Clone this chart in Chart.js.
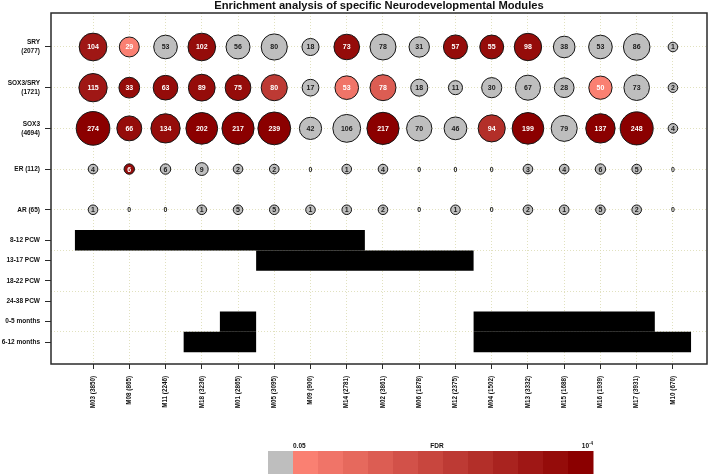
<!DOCTYPE html>
<html>
<head>
<meta charset="utf-8">
<script src="https://cdn.jsdelivr.net/npm/chart.js@4.4.1/dist/chart.umd.min.js"></script>
<style>
  html, body { margin: 0; padding: 0; background: #fff; }
</style>
</head>
<body>
<canvas id="chart" width="709" height="476"></canvas>
<script>
const FONT = "'Liberation Sans', Arial, Helvetica, sans-serif";

// modules (x axis) and their gene counts
const modules = ['M03', 'M08', 'M11', 'M18', 'M01', 'M05', 'M09', 'M14', 'M02',
                 'M06', 'M12', 'M04', 'M13', 'M15', 'M16', 'M17', 'M10'];
const moduleSizes = [3850, 865, 2246, 3236, 2865, 3095, 900, 2781, 3861,
                     1878, 2375, 1502, 3332, 1688, 1939, 3931, 670];

// target gene sets (top rows)
const motifs = ['SRY', 'SOX3/SRY', 'SOX3', 'ER', 'AR'];
const motifSizes = [2077, 1721, 4694, 112, 65];

// overlap counts per module
const countSRY     = [104, 29, 53, 102, 56, 80, 18, 73, 78, 31, 57, 55, 98, 38, 53, 86, 1];
const countSOX3SRY = [115, 33, 63, 89, 75, 80, 17, 53, 78, 18, 11, 30, 67, 28, 50, 73, 2];
const countSOX3    = [274, 66, 134, 202, 217, 239, 42, 106, 217, 70, 46, 94, 199, 79, 137, 248, 4];
const countER      = [4, 6, 6, 9, 2, 2, 0, 1, 4, 0, 0, 0, 3, 4, 6, 5, 0];
const countAR      = [1, 0, 0, 1, 5, 5, 1, 1, 2, 0, 1, 0, 2, 1, 5, 2, 0];

// FDR class: 0 = not significant, 1 (0.05) .. 12 (1e-4)
const fdrSRY     = [10, 1, 0, 11, 0, 0, 0, 11, 0, 0, 11, 11, 11, 0, 0, 0, 0];
const fdrSOX3SRY = [10, 11, 11, 11, 11, 7, 0, 2, 4, 0, 0, 0, 0, 0, 1, 0, 0];
const fdrSOX3    = [12, 11, 11, 12, 12, 12, 0, 0, 12, 0, 0, 8, 12, 0, 12, 12, 0];
const fdrER      = [0, 11, 0, 0, 0, 0, 0, 0, 0, 0, 0, 0, 0, 0, 0, 0, 0];
const fdrAR      = [0, 0, 0, 0, 0, 0, 0, 0, 0, 0, 0, 0, 0, 0, 0, 0, 0];

// developmental periods (bottom rows): 1 = module active
const periods = ['8-12 PCW', '13-17 PCW', '18-22 PCW', '24-38 PCW', '0-5 months', '6-12 months'];
const pcw8_12   = [1, 1, 1, 1, 1, 1, 1, 1, 0, 0, 0, 0, 0, 0, 0, 0, 0];
const pcw13_17  = [0, 0, 0, 0, 0, 1, 1, 1, 1, 1, 1, 0, 0, 0, 0, 0, 0];
const pcw18_22  = [0, 0, 0, 0, 0, 0, 0, 0, 0, 0, 0, 0, 0, 0, 0, 0, 0];
const pcw24_38  = [0, 0, 0, 0, 0, 0, 0, 0, 0, 0, 0, 0, 0, 0, 0, 0, 0];
const months0_5 = [0, 0, 0, 0, 1, 0, 0, 0, 0, 0, 0, 1, 1, 1, 1, 1, 0];
const months6_12 = [0, 0, 0, 1, 1, 0, 0, 0, 0, 0, 0, 1, 1, 1, 1, 1, 1];

const counts = [countSRY, countSOX3SRY, countSOX3, countER, countAR];
const fdrs = [fdrSRY, fdrSOX3SRY, fdrSOX3, fdrER, fdrAR];
const presence = [pcw8_12, pcw13_17, pcw18_22, pcw24_38, months0_5, months6_12];

// y layout: gene-set rows two units apart above the six period rows
const motifY = motifs.map((_, i) => 14.5 - 2 * i);
const periodY = periods.map((_, i) => 5 - i);
const gridOnlyY = [0.5, 2.5, 4.5];
const yTicks = [...periodY, ...gridOnlyY, ...motifY].sort((a, b) => a - b);

const GREY = '#bebebe';
const GRID = 'rgba(215,215,170,0.75)';
const salmon = [250, 128, 114], darkred = [139, 0, 0];
const reds = Array.from({ length: 12 }, (_, i) => {
  const t = i / 11;
  return 'rgb(' + salmon.map((c, k) => Math.round(c + (darkred[k] - c) * t)).join(',') + ')';
});

function bubbleRadius(n) {
  if (!n) return 0;
  return Math.max(4.8, 3.04 * Math.log(n) - 0.25);
}

function yLabel(v) {
  const m = motifY.indexOf(v);
  if (m >= 0) {
    const size = '(' + motifSizes[m] + ')';
    return m < 3 ? [motifs[m], size] : motifs[m] + ' ' + size;
  }
  const p = periodY.indexOf(v);
  return p >= 0 ? periods[p] : '';
}

// contiguous runs of active modules become floating bars
const barData = [];
presence.forEach((row, p) => {
  let start = null;
  row.forEach((v, c) => {
    if (v && start === null) start = c;
    const last = c === row.length - 1;
    if (start !== null && (!v || last)) {
      const end = v ? c : c - 1;
      barData.push({ y: periodY[p], x: [start + 0.5, end + 1.5] });
      start = null;
    }
  });
});

const bubbleSets = motifs.map((name, r) => ({
  type: 'bubble',
  label: name,
  order: 0,
  data: counts[r].map((n, c) => ({ x: c + 1, y: motifY[r], n: n, fdr: fdrs[r][c] })),
  backgroundColor: ctx => (ctx.raw && ctx.raw.fdr) ? reds[ctx.raw.fdr - 1] : GREY,
  borderColor: '#151515',
  borderWidth: ctx => (ctx.raw && ctx.raw.n) ? 1 : 0,
  radius: ctx => ctx.raw ? bubbleRadius(ctx.raw.n) : 0
}));

const decorations = {
  id: 'decorations',
  afterDatasetsDraw(chart) {
    const ctx = chart.ctx;
    ctx.save();
    ctx.font = 'bold 7px ' + FONT;
    ctx.textAlign = 'center';
    ctx.textBaseline = 'middle';
    chart.data.datasets.forEach((ds, i) => {
      if (ds.type !== 'bubble') return;
      chart.getDatasetMeta(i).data.forEach((el, j) => {
        const d = ds.data[j];
        ctx.fillStyle = d.fdr ? '#ffffff' : '#1a1a1a';
        ctx.fillText(String(d.n), el.x, el.y + 0.5);
      });
    });
    ctx.restore();
  },
  afterDraw(chart) {
    const ctx = chart.ctx;
    const a = chart.chartArea;
    ctx.save();
    // frame
    ctx.strokeStyle = '#2a2a2a';
    ctx.lineWidth = 1.5;
    ctx.strokeRect(a.left, a.top, a.right - a.left, a.bottom - a.top);
    // title
    ctx.fillStyle = '#111';
    ctx.font = 'bold 11.2px ' + FONT;
    ctx.textAlign = 'center';
    ctx.textBaseline = 'middle';
    ctx.fillText('Enrichment analysis of specific Neurodevelopmental Modules', (a.left + a.right) / 2, 6);
    // FDR colour key
    const kx = 268, ky = 451, kw = 25, kh = 23;
    ctx.fillStyle = GREY;
    ctx.fillRect(kx, ky, kw, kh);
    reds.forEach((c, i) => {
      ctx.fillStyle = c;
      ctx.fillRect(kx + kw * (i + 1), ky, kw + 0.5, kh);
    });
    ctx.fillStyle = '#111';
    ctx.font = 'bold 6.5px ' + FONT;
    ctx.textBaseline = 'alphabetic';
    ctx.textAlign = 'left';
    ctx.fillText('0.05', kx + kw, ky - 3.5);
    ctx.textAlign = 'center';
    ctx.fillText('FDR', kx + kw * 7 - 6, ky - 3.5);
    ctx.textAlign = 'right';
    ctx.font = 'bold 4.5px ' + FONT;
    ctx.fillText('-4', kx + kw * 13, ky - 6);
    const supW = ctx.measureText('-4').width;
    ctx.font = 'bold 6.5px ' + FONT;
    ctx.fillText('10', kx + kw * 13 - supW, ky - 3.5);
    ctx.restore();
  }
};

Chart.defaults.font.family = FONT;

new Chart(document.getElementById('chart'), {
  type: 'bubble',
  data: {
    datasets: [
      ...bubbleSets,
      {
        type: 'bar',
        label: 'periods',
        indexAxis: 'y',
        order: 1,
        data: barData,
        backgroundColor: '#000',
        borderColor: '#9a9a9a',
        borderWidth: 0,
        grouped: false,
        barPercentage: 1,
        categoryPercentage: 2
      }
    ]
  },
  options: {
    responsive: false,
    animation: false,
    events: [],
    layout: { autoPadding: false, padding: { left: 0, right: 2, top: 13, bottom: 52 } },
    plugins: {
      legend: { display: false },
      title: { display: false },
      tooltip: { enabled: false }
    },
    scales: {
      x: {
        type: 'linear',
        min: -0.16,
        max: 17.94,
        offset: false,
        afterBuildTicks: s => { s.ticks = modules.map((_, i) => ({ value: i + 1 })); },
        afterFit: s => { s.height = 60; s.paddingLeft = 0; s.paddingRight = 0; },
        border: { display: false, dash: [1, 2] },
        grid: { color: GRID, lineWidth: 1, tickColor: '#2a2a2a', tickLength: 5, offset: false },
        ticks: {
          autoSkip: false,
          minRotation: 90,
          maxRotation: 90,
          padding: 7,
          color: '#111',
          font: { size: 6.3, weight: 'bold' },
          callback: (v, i) => modules[i] + ' (' + moduleSizes[i] + ')'
        }
      },
      y: {
        type: 'linear',
        min: -1.08,
        max: 16.17,
        offset: false,
        afterBuildTicks: s => { s.ticks = yTicks.map(v => ({ value: v })); },
        afterFit: s => { s.width = 51; s.paddingTop = 0; s.paddingBottom = 0; },
        border: { display: false, dash: [1, 2] },
        grid: {
          offset: false,
          lineWidth: 1,
          tickLength: 6,
          color: c => (c.tick && (gridOnlyY.includes(c.tick.value) || motifY.includes(c.tick.value))) ? GRID : 'transparent',
          tickColor: c => (c.tick && !gridOnlyY.includes(c.tick.value)) ? '#2a2a2a' : 'transparent'
        },
        ticks: {
          autoSkip: false,
          padding: 5,
          color: '#111',
          font: { size: 6.5, weight: 'bold', lineHeight: 1.4 },
          callback: v => yLabel(v)
        }
      }
    }
  },
  plugins: [decorations]
});
</script>
</body>
</html>
